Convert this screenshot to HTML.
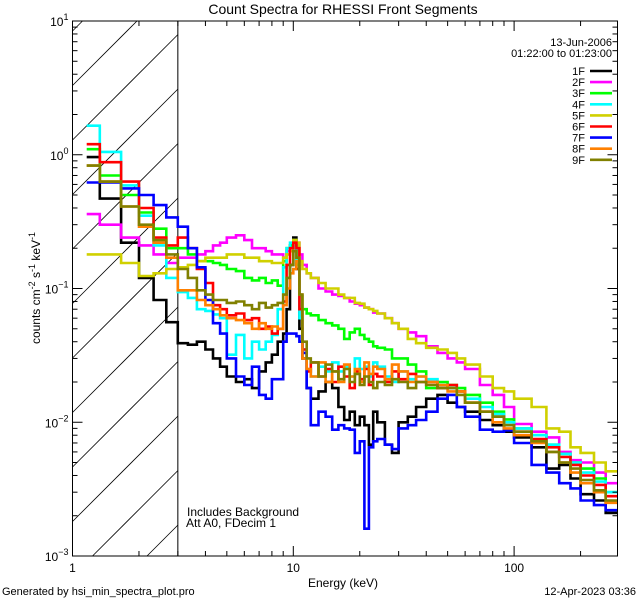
<!DOCTYPE html>
<html><head><meta charset="utf-8"><style>
html,body{margin:0;padding:0;width:640px;height:600px;overflow:hidden;background:#fff;}
svg{display:block;font-family:"Liberation Sans","DejaVu Sans",sans-serif;overflow:hidden;}
</style></head><body>
<svg id="chart" width="640" height="600" viewBox="0 0 640 600">
<defs><clipPath id="plotclip"><rect x="72.5" y="21" width="545" height="535"/></clipPath></defs>
<rect width="640" height="600" fill="#fff"/>
<text x="343" y="14" font-size="14" text-anchor="middle">Count Spectra for RHESSI Front Segments</text>
<g id="hatch"></g>
<g id="series" clip-path="url(#plotclip)"></g>
<g id="axes"></g>
<text x="187" y="516" font-size="12">Includes Background</text>
<text x="186" y="527" font-size="12">Att A0, FDecim 1</text>
<text x="343" y="587" font-size="12" text-anchor="middle">Energy (keV)</text>
<text transform="translate(40,288) rotate(-90)" font-size="12" text-anchor="middle">counts cm<tspan dy="-5" font-size="9">-2</tspan><tspan dy="5"> s</tspan><tspan dy="-5" font-size="9">-1</tspan><tspan dy="5"> keV</tspan><tspan dy="-5" font-size="9">-1</tspan></text>
<text x="2" y="595" font-size="11">Generated by hsi_min_spectra_plot.pro</text>
<text x="636" y="595" font-size="11" text-anchor="end">12-Apr-2023 03:36</text>
<g id="legend">
<text x="612" y="46" font-size="11" text-anchor="end">13-Jun-2006</text>
<text x="612" y="57" font-size="11" text-anchor="end">01:22:00 to 01:23:00</text>
</g>
</svg>
<script>
const edges=[1.16,1.33,1.66,2,2.33,2.66,3,3.33,3.66,4,4.33,4.66,5,5.5,6,6.5,7,7.5,8,8.5,9,9.33,9.66,10,10.33,10.66,11,11.5,12,13,14,15,16,17,18,19,20,21,22,23,24,26,28,30,33,36,40,45,50,55,60,70,80,90,100,120,140,160,180,200,230,260,300];
const seriesNames=["1F","2F","3F","4F","5F","6F","7F","8F","9F"];
const seriesColors=["#000000","#ff00ff","#00ff00","#00ffff","#d0d000","#ff0000","#0000ff","#ff8000","#808000"];
const s1F=[.96,.47,.22,.12,.082,.056, .039,.038,.040,.035,.030,.026, .022,.020,.021,.018,.024,.028,.032,.040, .046,.07,.15,.24,.14,.05, .03,.018,.015,.017,.02, .018,.013,.0104,.012,.0095, .011,.0095,.0068,.012, .010,.0068,.0059,.010,.011,.013, .015,.016,.014,.013, .012,.0104,.0095,.0085, .0077,.0065,.0045,.0048,.0038, .0029,.0026,.0021];
const s2F=[.36,.3,.24,.21,.18,.155, .17,.17,.18,.19,.21,.22, .24,.25,.23,.2,.2,.19,.18,.18, .17,.19,.21,.23,.22,.18, .15,.13,.12,.1,.095, .09,.088,.085,.08,.077, .075,.072,.07,.066, .065,.06,.055,.05,.047,.044, .037,.033,.03,.028, .025,.019,.016,.013, .0097,.0085,.0077,.006,.0052, .005,.0042,.0035];
const s3F=[1.1,.7,.5,.37,.28,.2, .2,.18,.16,.16,.155,.15, .14,.135,.12,.115,.12,.11,.115,.105, .16,.2,.21,.23,.15,.088, .07,.065,.063,.058,.055, .053,.05,.042,.047,.05, .045,.042,.04,.037, .036,.035,.03,.03,.027,.024, .018,.02,.019,.018, .016,.014,.012,.0105, .009,.008,.0068,.0058,.005, .0045,.0038,.003];
const s4F=[1.65,1.05,.59,.35,.21,.12, .094,.085,.07,.068,.064,.06, .032,.045,.03,.04,.035,.04,.045,.07, .144,.2,.22,.2,.16,.06, .035,.025,.022,.026,.024, .028,.024,.026,.022,.03, .025,.026,.022,.028, .026,.022,.02,.024,.021,.022, .021,.019,.018,.017, .015,.013,.0115,.01, .009,.008,.0068,.0058,.005, .0042,.0036,.003];
const s5F=[.18,.18,.155,.124,.13,.14, .144,.15,.16,.17,.17,.17, .18,.18,.17,.17,.16,.16,.155,.155, .17,.18,.19,.23,.22,.16, .14,.13,.12,.11,.1, .1,.09,.085,.085,.078, .077,.072,.07,.068, .065,.06,.055,.05,.042,.039, .036,.035,.033,.03, .027,.022,.018,.017, .015,.013,.009,.0085,.0065, .0059,.005,.0043];
const s6F=[1.2,.88,.63,.4,.24,.21, .24,.2,.14,.11,.075,.07, .063,.065,.058,.06,.05,.052,.046,.05, .08,.15,.2,.22,.2,.07, .035,.024,.028,.022,.025, .02,.026,.022,.018,.024, .021,.025,.019,.023, .022,.02,.024,.021,.023,.02, .02,.018,.019,.017, .014,.012,.011,.0095, .0085,.0075,.0065,.0055,.0048, .004,.0034,.0028];
const s7F=[.62,.62,.56,.5,.42,.34, .29,.2,.144,.082,.055,.046, .03,.022,.019,.026,.016,.015,.021,.021, .04,.046,.046,.046,.044,.04, .033,.018,.0095,.012,.011, .0088,.0095,.009,.0088,.0059, .0072,.0016,.0065,.0072, .0075,.0068,.0063,.009,.0095,.0104, .012,.015,.016,.013, .011,.0088,.0085,.0087, .007,.0048,.0042,.0035,.0032, .0026,.0024,.0022];
const s8F=[.83,.63,.41,.29,.22,.17, .097,.097,.082,.075,.07,.063, .06,.058,.055,.05,.055,.05,.052,.05, .075,.1,.13,.14,.16,.09, .03,.025,.022,.028,.02, .024,.02,.027,.022,.025, .02,.028,.023,.026, .025,.021,.027,.024,.02,.022, .02,.019,.017,.017, .014,.012,.01,.009, .008,.007,.006,.005,.0042, .0035,.003,.0025];
const s9F=[.83,.63,.41,.3,.23,.18, .14,.12,.097,.09,.082,.082, .078,.08,.075,.07,.078,.072,.075,.078, .09,.12,.15,.19,.17,.09, .04,.03,.028,.022,.027, .024,.021,.025,.02,.023, .019,.022,.02,.018, .02,.019,.021,.02,.018,.02, .019,.018,.018,.016, .014,.012,.011,.0095, .0085,.0072,.006,.005,.0045, .0037,.0031,.0026];
const seriesValues=[s1F,s2F,s3F,s4F,s5F,s6F,s7F,s8F,s9F];
const xTickLabels=["1","10","100"];
const yTickExps=["1","0","-1","-2","-3"];

const NS="http://www.w3.org/2000/svg";
const L=72.5,R=617.5,T=21,B=556,XDEC=220.8,YDEC=(B-T)/4;
function xs(e){return L+Math.log10(e)*XDEC;}
function ys(v){return T+(1-Math.log10(v))*YDEC;}
function mk(tag,attrs,parent){const el=document.createElementNS(NS,tag);for(const k in attrs)el.setAttribute(k,attrs[k]);parent.appendChild(el);return el;}

const hatch=document.getElementById('hatch');
const X3=xs(3);
for(let k=-4;k<14;k++){const c=140+54.5*k;
 const xa=Math.max(L,L+c-B), xb=Math.min(X3,L+c-T);
 if(xb<=xa)continue;
 const ln=mk('line',{x1:xa,y1:c-(xa-L),x2:xb,y2:c-(xb-L),stroke:'#000','stroke-width':0.8},hatch);
 
 }
const att=mk('line',{x1:X3,y1:T,x2:X3,y2:B,stroke:'#000','stroke-width':1},hatch);



const sg=document.getElementById('series');
seriesValues.forEach((vals,i)=>{
 let d='';
 for(let j=0;j<vals.length;j++){
  const x0=xs(edges[j]),x1=Math.min(R,xs(edges[j+1])),y=ys(vals[j]);
  d+=(j===0?'M':'L')+x0.toFixed(1)+','+y.toFixed(1)+'L'+x1.toFixed(1)+','+y.toFixed(1);
 }
 const p=mk('path',{d:d,fill:'none',stroke:seriesColors[i],'stroke-width':2.6,'stroke-linejoin':'miter'},sg);
 
 
});

const ax=document.getElementById('axes');
const fr=mk('rect',{x:L,y:T,width:R-L,height:B-T,fill:'none',stroke:'#000','stroke-width':1},ax);


for(let dec=0;dec<3;dec++){for(let m=1;m<10;m++){const e=m*Math.pow(10,dec);const x=xs(e);if(x>R)continue;
 const len=m===1?10:5;
 mk('line',{x1:x,y1:B,x2:x,y2:B-len,stroke:'#000'},ax);
 mk('line',{x1:x,y1:T,x2:x,y2:T+len,stroke:'#000'},ax);}}
xTickLabels.forEach((t,i)=>{const tx=mk('text',{x:xs(Math.pow(10,i)),y:B+16,'font-size':12,'text-anchor':'middle'},ax);tx.textContent=t;
 
 });
for(let p=-3;p<1;p++){for(let m=1;m<10;m++){const v=m*Math.pow(10,p);const y=ys(v);const len=m===1?10:5;
 mk('line',{x1:L,y1:y,x2:L+len,y2:y,stroke:'#000'},ax);
 mk('line',{x1:R,y1:y,x2:R-len,y2:y,stroke:'#000'},ax);}}
yTickExps.forEach(ex=>{const y=ys(Math.pow(10,+ex));
 const tx=mk('text',{x:L-4,y:y+5,'font-size':12,'text-anchor':'end'},ax);
 
 
 tx.appendChild(document.createTextNode('10'));
 const sp=document.createElementNS(NS,'tspan');sp.setAttribute('dy','-6');sp.setAttribute('font-size','9');sp.textContent=ex.replace('-','\u2212');tx.appendChild(sp);});
const lg=document.getElementById('legend');
seriesNames.forEach((n,i)=>{const y=71+i*11.1;
 const t=mk('text',{x:585,y:y+4,'font-size':11,'text-anchor':'end'},lg);t.textContent=n;
 
 
 const l=mk('line',{x1:590,y1:y,x2:612,y2:y,stroke:seriesColors[i],'stroke-width':2.6},lg);
 
 });
</script>
</body></html>
